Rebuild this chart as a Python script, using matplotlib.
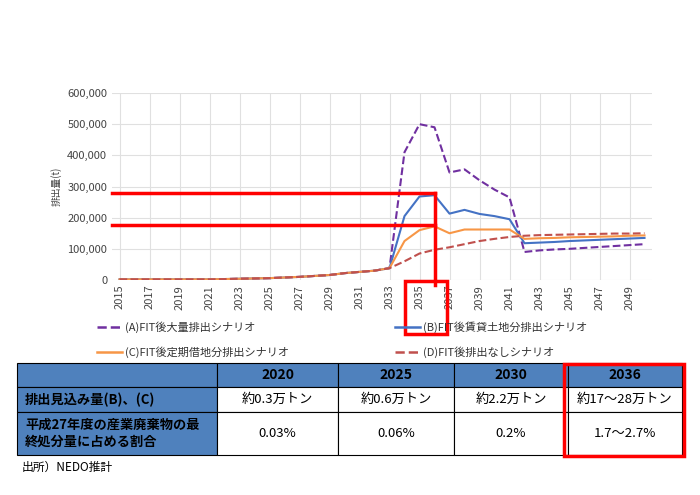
import matplotlib
matplotlib.use("Agg")
import matplotlib.pyplot as plt
from matplotlib.patches import Rectangle

plt.rcParams["font.family"] = ["Noto Sans CJK JP", "DejaVu Sans"]

years = list(range(2015, 2051))
base = [2, 2, 2, 2, 2, 2, 2, 3, 4, 5, 6, 8, 10, 13, 16, 22, 26, 30, 38]
series_a = base + [410, 500, 490, 345, 355, 320, 290, 265, 90, 95, 98, 100, 103, 106, 109, 112, 115]
series_b = base + [205, 268, 272, 213, 225, 212, 205, 195, 118, 120, 122, 125, 127, 129, 131, 133, 135]
series_c = base + [125, 160, 172, 150, 162, 162, 162, 162, 132, 134, 135, 137, 138, 139, 140, 142, 143]
series_d = base + [60, 85, 97, 105, 115, 125, 132, 138, 142, 144, 145, 146, 147, 148, 149, 149, 150]
labels = ["(A)FIT後大量排出シナリオ", "(B)FIT後賃貸土地分排出シナリオ",
          "(C)FIT後定期借地分排出シナリオ", "(D)FIT後排出なしシナリオ"]
table_cols = ["2020", "2025", "2030", "2036"]
row_labels = ["排出見込み量(B)、(C)", "平成27年度の産業廃棄物の最\n終処分量に占める割合"]
row1 = ["約0.3万トン", "約0.6万トン", "約2.2万トン", "約17～28万トン"]
row2 = ["0.03%", "0.06%", "0.2%", "1.7～2.7%"]

W, H = 700, 495
fig = plt.figure(figsize=(7, 4.95), dpi=100)
ax = fig.add_axes([112 / W, 1 - 280 / H, 540 / W, 187 / H])
x = list(range(len(years)))
styles = [(series_a, "#7030A0", "--"), (series_b, "#4472C4", "-"),
          (series_c, "#F79646", "-"), (series_d, "#C0504D", "--")]
for s, c, ls in styles:
    ax.plot(x, [v * 1000 for v in s], color=c, ls=ls, lw=1.5)
ax.set_xlim(-0.5, len(years) - 0.5)
ax.set_ylim(0, 600000)
ax.set_yticks(range(0, 600001, 100000))
ax.set_yticklabels([f"{v:,}" for v in range(0, 600001, 100000)], fontsize=8, color="#444")
ax.set_xticks(x[::2])
ax.set_xticklabels([str(y) for y in years[::2]], rotation=90, fontsize=8, color="#444")
ax.grid(True, color="#e0e0e0", lw=0.8)
ax.set_axisbelow(True)
for sp in ax.spines.values():
    sp.set_visible(False)
ax.tick_params(length=0)
ax.set_ylabel("排出量(t)", fontsize=7, color="#444")

i36 = years.index(2036)
for yv in (280000, 178000):
    ax.plot([-0.5, i36], [yv, yv], color="red", lw=2.5, clip_on=False)
ax.plot([i36, i36], [280000, -15000], color="red", lw=2.5, clip_on=False)

ov = fig.add_axes([0, 0, 1, 1])
ov.set_xlim(0, W)
ov.set_ylim(H, 0)
ov.axis("off")
ov.add_patch(Rectangle((405, 281), 42, 53, fill=False, ec="red", lw=2.5))

# legend
pos = [(97, 327), (395, 327), (97, 352), (395, 352)]
for (px, py), (s, c, ls), lab in zip(pos, styles, labels):
    ov.plot([px, px + 25], [py, py], color=c, ls=ls, lw=1.8)
    ov.text(px + 28, py, lab, fontsize=8, va="center", color="#333")

# table
cx = [17, 217, 338, 454, 568, 682]
ry = [363, 387, 412, 455]
blue = "#4F81BD"
for r in range(3):
    for c in range(5):
        fc = blue if (r == 0 or c == 0) else "white"
        ov.add_patch(Rectangle((cx[c], ry[r]), cx[c + 1] - cx[c], ry[r + 1] - ry[r],
                               fc=fc, ec="black", lw=0.8))
for c, t in enumerate(table_cols):
    ov.text((cx[c + 1] + cx[c + 2]) / 2, (ry[0] + ry[1]) / 2, t, ha="center", va="center",
            fontsize=10, fontweight="bold", color="black")
for r, (lab, vals) in enumerate([(row_labels[0], row1), (row_labels[1], row2)]):
    ymid = (ry[r + 1] + ry[r + 2]) / 2
    ov.text(cx[0] + 8, ymid, lab, ha="left", va="center", fontsize=9.5,
            fontweight="bold", color="black", linespacing=1.3)
    for c, v in enumerate(vals):
        ov.text((cx[c + 1] + cx[c + 2]) / 2, ymid, v, ha="center", va="center", fontsize=9.5)
ov.add_patch(Rectangle((cx[4] - 4, 364), cx[5] - cx[4] + 6, 92, fill=False, ec="red", lw=2.5))
ov.text(22, 467, "出所）NEDO推計", fontsize=8.5, va="center")

fig.savefig("out.png", dpi=100)
